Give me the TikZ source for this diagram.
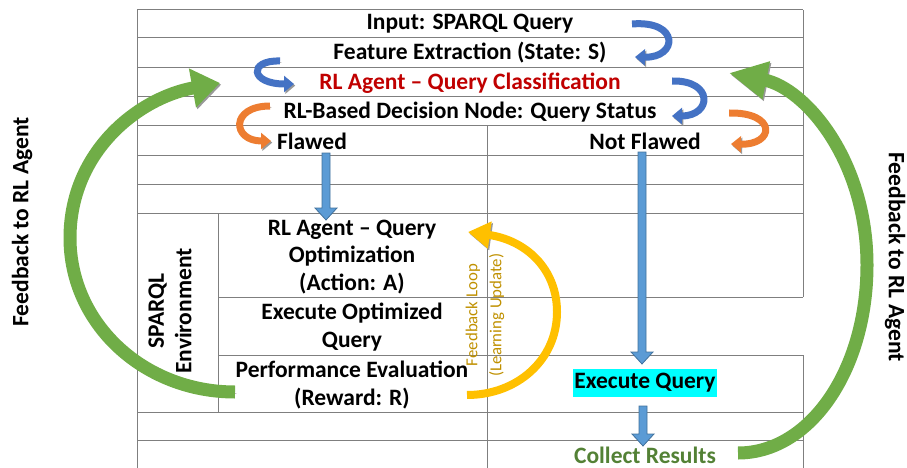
\documentclass[tikz,border=0pt]{standalone}
\usepackage{fontspec}
\setmainfont{Carlito}
\usetikzlibrary{arrows.meta,calc}
\definecolor{gridc}{HTML}{7F7F7F}
\definecolor{rlred}{HTML}{C00000}
\definecolor{resgreen}{HTML}{538135}
\definecolor{loopc}{HTML}{BF9000}
\definecolor{garrow}{HTML}{70AD47}
\definecolor{barrow}{HTML}{4472C4}
\definecolor{oarrow}{HTML}{ED7D31}
\definecolor{yarrow}{HTML}{FFC000}
\definecolor{bfill}{HTML}{5B9BD5}
\definecolor{bline}{HTML}{41719C}
\definecolor{hcyan}{HTML}{00FFFF}
\tikzset{
  tablerule/.style={draw=gridc, line width=1pt},
  lbl/.style={font=\bfseries\fontsize{23.5}{27.5}\selectfont, align=center, inner sep=0pt},
  shadowed/.style={preaction={draw=black!40, transform canvas={shift={(1.3pt,-1.6pt)}}}},
  uturn/.style={line width=7pt, shadowed, -{Triangle[width=16pt,length=10pt]}},
  bigarc/.style={draw=garrow, line width=13pt, shadowed},
  blockarrow/.style={fill=bfill, draw=bline, line width=0.8pt,
    to path={let \p1=(\tikztostart), \p2=(\tikztotarget) in
      (\x1-4pt,\y1) -- (\x1-4pt,\y2+12pt) -- (\x1-11pt,\y2+12pt) -- (\x1,\y2)
      -- (\x1+11pt,\y2+12pt) -- (\x1+4pt,\y2+12pt) -- (\x1+4pt,\y1) -- cycle}}
}
\begin{document}
\begin{tikzpicture}[x=1pt,y=-1pt]
\useasboundingbox (0,0) rectangle (907,468);
% table
\foreach \yy in {10,38,68,97,126,155,184,213,412,440}
  \draw[tablerule] (137,\yy) -- (803,\yy);
\draw[tablerule] (137,10) -- (137,468);
\draw[tablerule] (803,10) -- (803,297);
\draw[tablerule] (803,355) -- (803,468);
\draw[tablerule] (487,126) -- (487,468);
\draw[tablerule] (218,213) -- (218,412);
\draw[tablerule] (218,297) -- (803,297);
\draw[tablerule] (218,355) -- (803,355);
% texts
\node[lbl] (inp) at (470,24) {Input: SPARQL Query};
\node[lbl] (fe) at (470,53) {Feature Extraction (State: S)};
\node[lbl, text=rlred] (rlc) at (470,83) {RL Agent – Query Classification};
\node[lbl] (dec) at (470,112) {RL-Based Decision Node: Query Status};
\node[lbl] (fl) at (312,141) {Flawed};
\node[lbl] (nfl) at (645,141) {Not Flawed};
\node[lbl] (opt) at (352,257) {RL Agent – Query\\Optimization\\(Action: A)};
\node[lbl] (exo) at (352,327) {Execute Optimized\\Query};
\node[lbl] (perf) at (352,385) {Performance Evaluation\\(Reward: R)};
\node[lbl, fill=hcyan, inner xsep=1pt, minimum height=28pt] (exq) at (645,383) {Execute Query};
\node[lbl, text=resgreen, anchor=base, text depth=0pt] (col) at (645,463) {Collect Results};
\node[lbl, rotate=90] (env) at (170,311) {SPARQL\\Environment};
\node[lbl, rotate=90] (fbl) at (22,222) {Feedback to RL Agent};
\node[lbl, rotate=-90] (fbr) at (895,257) {Feedback to RL Agent};
\node[font=\fontsize{16.8}{24}\selectfont, text=loopc, rotate=90, align=center, inner sep=0pt] (loop) at (485,315) {Feedback Loop\\(Learning Update)};
% coordinates for arrow ends
\coordinate (b1s) at (632,24);  \coordinate (b1e) at (635,57);
\coordinate (b2s) at (280,61);  \coordinate (b2e) at (294,84);
\coordinate (b3s) at (672,81);  \coordinate (b3e) at (672,116);
\coordinate (o1s) at (270,106); \coordinate (o1e) at (271,141);
\coordinate (o2s) at (729,113); \coordinate (o2e) at (731,144);
% U-turn arrows
\draw[uturn, draw=barrow] (b1s) .. controls (680,20) and (678,58) .. (b1e);
\draw[uturn, draw=barrow] (b2s) .. controls (248,60) and (250,84) .. (b2e);
\draw[uturn, draw=barrow] (b3s) .. controls (714,80) and (712,116) .. (b3e);
\draw[uturn, draw=oarrow] (o1s) .. controls (230,106) and (232,141) .. (o1e);
\draw[uturn, draw=oarrow] (o2s) .. controls (777,112) and (775,145) .. (o2e);
% vertical block arrows
\coordinate (v1s) at (326,153); \coordinate (v1e) at (326,220);
\coordinate (v2s) at (642,152); \coordinate (v2e) at (642,364);
\coordinate (v3s) at (643,406); \coordinate (v3e) at (643,446);
\draw[blockarrow] (v1s) to (v1e);
\draw[blockarrow] (v2s) to (v2e);
\draw[blockarrow] (v3s) to (v3e);
% big green feedback arrows
\coordinate (gls) at (235,392); \coordinate (gle) at (220,83);
\coordinate (grs) at (738,453); \coordinate (gre) at (729,73);
\draw[bigarc, -{Triangle[width=38pt,length=28pt]}] (gls) .. controls (144,392) and (70,324) .. (70,238) .. controls (70,152) and (138,98) .. (gle);
\draw[bigarc, -{Triangle[width=36pt,length=38pt]}] (grs) .. controls (810,453) and (867,370) .. (867,265) .. controls (867,160) and (805,88) .. (gre);
% yellow feedback loop
\coordinate (yls) at (467,395); \coordinate (yle) at (468,232);
\draw[draw=yarrow, line width=8pt, shadowed, -{Triangle[width=26pt,length=22pt]}] (yls) .. controls (517,395) and (557,360) .. (557,312) .. controls (557,268) and (525,240) .. (yle);
\end{tikzpicture}
\end{document}
